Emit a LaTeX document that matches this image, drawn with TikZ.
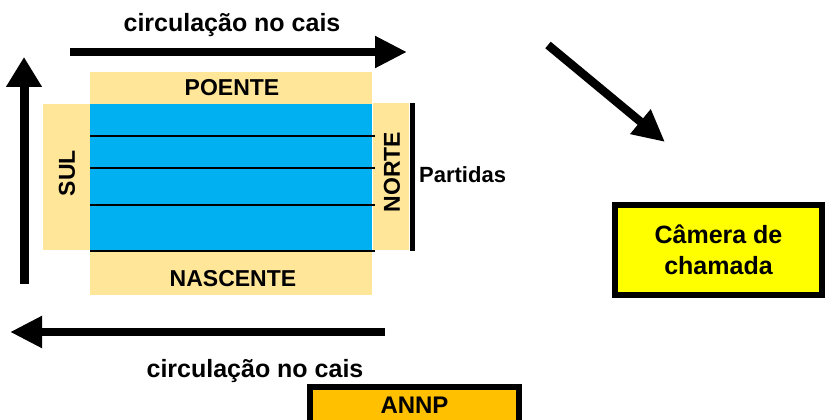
\documentclass[tikz,border=0pt]{standalone}
\usepackage{fontspec}
\setmainfont{Liberation Sans}
\usetikzlibrary{arrows.meta}

\definecolor{cais}{HTML}{FFE699}
\definecolor{agua}{HTML}{00B0F0}
\definecolor{amarelo}{HTML}{FFFF00}
\definecolor{laranja}{HTML}{FFC000}

\tikzset{
  seta/.style={line width=8.5pt, -{Triangle[length=32pt,width=30pt]}},
  zona/.style={fill=cais, inner sep=0pt},
  rotulo/.style={font=\bfseries\fontsize{23}{27}\selectfont, inner sep=0pt},
  texto/.style={font=\bfseries\fontsize{25}{30}\selectfont, inner sep=0pt},
  caixa/.style={draw=black, line width=6pt, inner sep=0pt, align=center,
    font=\bfseries\fontsize{25}{31}\selectfont},
}

\begin{document}
\begin{tikzpicture}[x=1pt, y=-1pt]
\useasboundingbox (0,0) rectangle (825,420);
\clip (0,0) rectangle (825,420);
% cais round the pool
\node[zona, minimum width=282pt, minimum height=32pt] (poente) at (231,88) {};
\node[zona, minimum width=47pt, minimum height=146pt] (sul) at (66.5,177) {};
\node[zona, minimum width=36pt, minimum height=147pt] (norte) at (391,176.5) {};
\node[zona, minimum width=282pt, minimum height=45pt] (nascente) at (231,272.5) {};
\node[fill=agua, inner sep=0pt, minimum width=282pt, minimum height=146pt] (piscina) at (231,177) {};
% lanes
\draw[line width=2pt] (90,136) -- (375,136);
\draw[line width=2pt] (90,168) -- (375,168);
\draw[line width=2pt] (90,205) -- (375,205);
\draw[line width=2pt] (90,251) -- (375,251);
\draw[line width=5pt] ([xshift=3pt]norte.north east) -- ([xshift=3pt,yshift=-1pt]norte.south east);
% zone labels
\node[rotulo] (poentetxt) at (232,88) {POENTE};
\node[rotulo] (nascentetxt) at (233,278.5) {NASCENTE};
\node[rotulo, rotate=90] (sultxt) at (67,173) {SUL};
\node[rotulo, rotate=90] (nortetxt) at (392,172) {NORTE};
\node[texto, anchor=base west, font=\bfseries\fontsize{22}{26}\selectfont] (partidas) at (419,182) {Partidas};
% circulation
\node[texto, anchor=base] (circtopo) at (232,32) {circulação no cais};
\node[texto, anchor=base] (circbaixo) at (255,377) {circulação no cais};
\coordinate (topoA) at (70,52);
\coordinate (topoB) at (407,52);
\coordinate (esqA) at (24,284);
\coordinate (esqB) at (24,57);
\coordinate (baixoA) at (385,332);
\coordinate (baixoB) at (10,332);
\coordinate (diagA) at (548,45);
\coordinate (diagB) at (665,142);
\draw[seta] (topoA) -- (topoB);
\draw[seta, line width=9pt, -{Triangle[length=30pt,width=34pt]}] (esqA) -- (esqB);
\draw[seta] (baixoA) -- (baixoB);
\draw[seta] (diagA) -- (diagB);
% boxes
\node[caixa, fill=amarelo, minimum width=207pt, minimum height=90pt] (camera) at (718.5,250) {Câmera de\\chamada};
\node[caixa, fill=laranja, minimum width=209pt, minimum height=36pt, font=\bfseries\fontsize{24}{28}\selectfont] (annp) at (414.5,405) {ANNP};
\end{tikzpicture}
\end{document}
